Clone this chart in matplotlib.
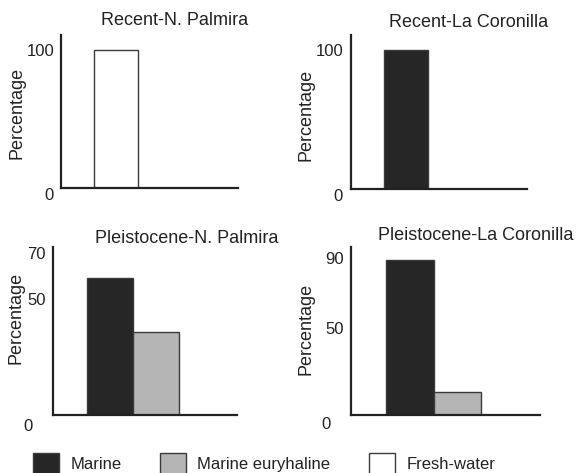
import matplotlib.pyplot as plt
import matplotlib.transforms as mtransforms
from matplotlib.patches import Patch

plt.rcParams['font.family'] = ['Liberation Sans', 'DejaVu Sans']

# legend categories and their fills
categories = ['Marine', 'Marine euryhaline', 'Fresh-water']
fills = {'Marine': '#262626', 'Marine euryhaline': '#b5b5b5', 'Fresh-water': '#ffffff'}

# each panel only shows the non-zero groups, bars side by side
titles = ['Recent-N. Palmira', 'Recent-La Coronilla',
          'Pleistocene-N. Palmira', 'Pleistocene-La Coronilla']
panel_cats = [['Fresh-water'], ['Marine'],
              ['Marine', 'Marine euryhaline'], ['Marine', 'Marine euryhaline']]
panel_vals = [[100], [100], [59, 36], [89, 13]]
panel_ticks = [[0, 100], [0, 100], [0, 50, 70], [0, 50, 90]]
panel_ytop = [111, 111, 72.6, 96.3]

# axes boxes [left, bottom, width, height] in figure fraction
boxes = [[0.1055, 0.6025, 0.306, 0.3235],
         [0.607, 0.600, 0.305, 0.326],
         [0.0917, 0.1226, 0.318, 0.3552],
         [0.607, 0.1226, 0.327, 0.3552]]
title_x = [0.64, 0.67, 0.73, 0.66]
title_pad = [7, 6, 2, 5]
ylab_pos = [(-0.2, 0.49), (-0.205, 0.48), (-0.155, 0.58), (-0.19, 0.51)]
zero_shift = [(0, -4), (-1, -4), (-10, -7), (-9.5, -6)]  # points

fig = plt.figure(figsize=(5.78, 4.73), dpi=100)

for i in range(4):
    ax = fig.add_axes(boxes[i])
    x = list(range(len(panel_cats[i])))
    ax.bar(x, panel_vals[i], width=1, align='edge',
           color=[fills[c] for c in panel_cats[i]],
           edgecolor='#3a3a3a', linewidth=1)
    ax.set_xlim(-0.75, 3.25)
    ax.set_ylim(0, panel_ytop[i])
    ax.set_xticks([])
    ax.set_yticks(panel_ticks[i])
    ax.tick_params(axis='y', length=0, pad=5, labelsize=12, labelcolor='#222222')
    for s in ['top', 'right']:
        ax.spines[s].set_visible(False)
    for s in ['left', 'bottom']:
        ax.spines[s].set_linewidth(1.6)
        ax.spines[s].set_color('#222222')
    ax.set_title(titles[i], x=title_x[i], pad=title_pad[i], fontsize=13, color='#222222')
    ax.set_ylabel('Percentage', fontsize=13, color='#222222')
    ax.yaxis.set_label_coords(*ylab_pos[i])
    # the zero label sits a little below the baseline
    lab = ax.get_yticklabels()[0]
    dx, dy = zero_shift[i]
    lab.set_transform(lab.get_transform() +
                      mtransforms.ScaledTranslation(dx / 72, dy / 72, fig.dpi_scale_trans))

handles = [Patch(facecolor=fills[c], edgecolor='#3a3a3a', linewidth=1) for c in categories]
fig.legend(handles, categories, loc='center left', bbox_to_anchor=(0.057, 0.02),
           ncol=3, frameon=False, fontsize=12, handlelength=1.55, handleheight=1.55,
           handletextpad=0.7, columnspacing=2.3, borderpad=0, borderaxespad=0,
           labelcolor='#222222')

fig.savefig('out.png', dpi=100)
